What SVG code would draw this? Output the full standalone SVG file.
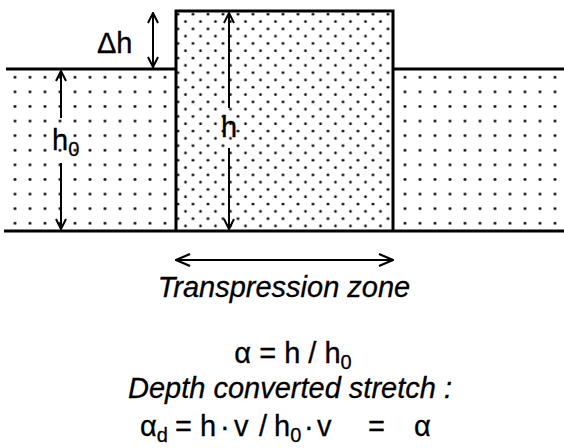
<svg xmlns="http://www.w3.org/2000/svg" width="564" height="448" viewBox="0 0 564 448">
<style>
.ln{stroke:#000;stroke-width:3;fill:none}
.ar{stroke:#000;stroke-width:2;fill:none}
.lb{font-family:"Liberation Sans",Arial,sans-serif;font-size:29px;fill:#000;stroke:#000;stroke-width:0.3}
.it{font-style:italic}
.sb{font-size:20px}
</style>
<defs>
<pattern id="sparse" patternUnits="userSpaceOnUse" x="7.5" y="70" width="15" height="14.6">
<circle cx="7.5" cy="7.3" r="1.4" fill="#000"/>
</pattern>
<pattern id="dense" patternUnits="userSpaceOnUse" x="2.5" y="18" width="15" height="14.6">
<circle cx="3" cy="3.6" r="1.35" fill="#000"/>
<circle cx="10.5" cy="10.9" r="1.35" fill="#000"/>
</pattern>
<marker id="ah" viewBox="0 0 12 12" refX="11" refY="6" markerWidth="12" markerHeight="12" markerUnits="userSpaceOnUse" orient="auto-start-reverse">
<path d="M1,1 L11,6 L1,11" fill="none" stroke="#000" stroke-width="2"/>
</marker>
<marker id="ahb" viewBox="0 0 16 14" refX="15" refY="7" markerWidth="16" markerHeight="14" markerUnits="userSpaceOnUse" orient="auto-start-reverse">
<path d="M1,1 L15,7 L1,13" fill="none" stroke="#000" stroke-width="2.2"/>
</marker>
</defs>

<g id="left-block">
<rect x="6" y="69" width="170" height="162" fill="url(#sparse)"/>
<line class="ln" x1="6" y1="69" x2="176" y2="69"/>
</g>
<g id="right-block">
<rect x="393" y="69" width="171" height="162" fill="url(#sparse)"/>
<line class="ln" x1="393" y1="69" x2="564" y2="69"/>
</g>
<g id="transpression-block">
<rect x="176" y="11" width="217" height="220" fill="url(#dense)"/>
<path class="ln" d="M176,231 V11 H393 V231"/>
</g>
<g id="base">
<line class="ln" x1="4" y1="231" x2="564" y2="231"/>
</g>

<g id="connectors">
<line class="ar" x1="153" y1="13" x2="153" y2="67" marker-start="url(#ah)" marker-end="url(#ah)"/>
<line class="ar" x1="61" y1="118" x2="61" y2="71" marker-end="url(#ah)"/>
<line class="ar" x1="61" y1="163" x2="61" y2="229" marker-end="url(#ah)"/>
<line class="ar" x1="229" y1="108" x2="229" y2="13" marker-end="url(#ah)"/>
<line class="ar" x1="229" y1="148" x2="229" y2="229" marker-end="url(#ah)"/>
<line class="ar" x1="176" y1="260" x2="393" y2="260" marker-start="url(#ahb)" marker-end="url(#ahb)"/>
</g>

<g id="labels">
<text class="lb" x="97" y="53">Δh</text>
<text class="lb" x="52" y="150">h<tspan class="sb" dy="6">0</tspan></text>
<text class="lb" x="221" y="137">h</text>
<text class="lb it" x="284" y="297" text-anchor="middle">Transpression zone</text>
<text class="lb" x="293" y="363" text-anchor="middle">α = h / h<tspan class="sb" dy="6">0</tspan></text>
<text class="lb it" x="290" y="398" text-anchor="middle">Depth converted stretch :</text>
<text class="lb" y="436" font-size="30"><tspan x="140">α</tspan><tspan class="sb" dy="6">d</tspan><tspan x="175" dy="-6">=</tspan><tspan x="200">h</tspan><tspan x="220">·</tspan><tspan x="234">v</tspan><tspan x="259">/</tspan><tspan x="274">h</tspan><tspan class="sb" dy="6">0</tspan><tspan x="304" dy="-6">·</tspan><tspan x="317">v</tspan><tspan x="368">=</tspan><tspan x="414">α</tspan></text>
</g>
</svg>
